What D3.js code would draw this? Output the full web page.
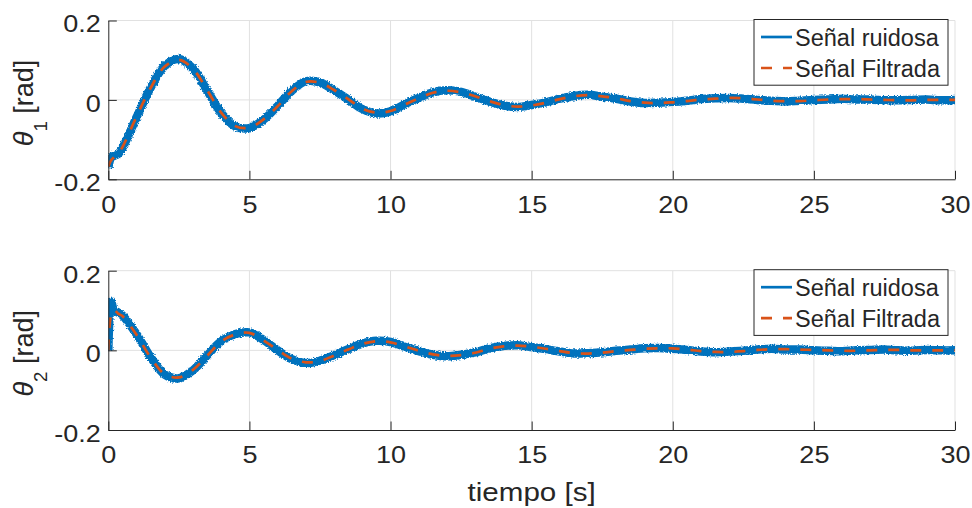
<!DOCTYPE html>
<html>
<head>
<meta charset="utf-8">
<script src="https://cdn.jsdelivr.net/npm/d3@7"></script>
<style>
  body { margin: 0; background: #fff; }
  svg { display: block; }
  text { font-family: "Liberation Sans", Arial, Helvetica, sans-serif; fill: #262626; }
</style>
</head>
<body>
<svg id="chart" width="972" height="508"></svg>
<script>
// Time samples [s]
const time = [0, 0.1, 0.2, 0.35, 0.5, 1, 1.5, 2, 2.5, 3, 3.5, 4, 4.5, 5, 5.5, 6, 6.5, 7, 7.5, 8, 8.5, 9, 9.5, 10,
  10.5, 11, 11.5, 12, 12.5, 13, 13.5, 14, 14.5, 15, 15.5, 16, 16.5, 17, 17.5, 18, 18.5, 19, 19.5, 20,
  20.5, 21, 21.5, 22, 22.5, 23, 23.5, 24, 24.5, 25, 25.5, 26, 26.5, 27, 27.5, 28, 28.5, 29, 29.5, 30];

// Joint 1 angle [rad]
const theta1Noisy = [-0.172, -0.145, -0.141, -0.136, -0.121,
  -0.044, 0.031, 0.086, 0.103, 0.079, 0.024, -0.033, -0.067, -0.071, -0.050,
  -0.015, 0.023, 0.047, 0.044, 0.024, 0.001, -0.023, -0.034, -0.029, -0.011,
  0.005, 0.019, 0.024, 0.020, 0.008, -0.004, -0.014, -0.018, -0.013, -0.006,
  0.003, 0.010, 0.013, 0.008, 0.003, -0.004, -0.008, -0.007, -0.005, -0.002,
  0.002, 0.004, 0.005, 0.003, 0.000, -0.002, -0.004, -0.002, 0.000, 0.001,
  0.003, 0.001, 0.001, -0.001, -0.001, 0.000, 0.001, -0.001, 0.000];
const theta1Filtered = [-0.168, -0.152, -0.145, -0.135, -0.119,
  -0.042, 0.030, 0.084, 0.101, 0.078, 0.025, -0.032, -0.066, -0.070, -0.049,
  -0.016, 0.022, 0.045, 0.043, 0.025, 0.002, -0.022, -0.032, -0.028, -0.012,
  0.004, 0.018, 0.023, 0.019, 0.009, -0.003, -0.013, -0.017, -0.014, -0.007,
  0.002, 0.009, 0.012, 0.009, 0.004, -0.003, -0.007, -0.008, -0.006, -0.003,
  0.001, 0.003, 0.005, 0.004, 0.001, -0.002, -0.003, -0.003, -0.001, 0.001,
  0.002, 0.002, 0.001, 0.000, -0.001, -0.001, 0.000, 0.000, 0.000];

// Joint 2 angle [rad]
const theta2Noisy = [0.000, 0.122, 0.101, 0.095, 0.088,
  0.041, -0.017, -0.061, -0.070, -0.050, -0.013, 0.023, 0.041, 0.045, 0.026,
  0.000, -0.022, -0.032, -0.026, -0.012, 0.003, 0.017, 0.024, 0.021, 0.009,
  -0.002, -0.011, -0.015, -0.011, -0.005, 0.005, 0.011, 0.013, 0.008, 0.003,
  -0.003, -0.008, -0.007, -0.005, -0.001, 0.002, 0.005, 0.006, 0.004, 0.001,
  -0.003, -0.005, -0.003, -0.001, 0.002, 0.004, 0.002, 0.002, 0.000, -0.001,
  -0.002, 0.000, 0.001, 0.002, 0.000, -0.001, 0.001, 0.000, 0.000];
const theta2Filtered = [0.000, 0.090, 0.102, 0.092, 0.086,
  0.039, -0.018, -0.060, -0.068, -0.049, -0.014, 0.022, 0.040, 0.044, 0.025,
  0.001, -0.021, -0.030, -0.027, -0.013, 0.002, 0.016, 0.023, 0.020, 0.010,
  -0.001, -0.010, -0.014, -0.012, -0.006, 0.004, 0.010, 0.012, 0.009, 0.004,
  -0.002, -0.007, -0.008, -0.006, -0.002, 0.001, 0.004, 0.005, 0.005, 0.002,
  -0.002, -0.004, -0.004, -0.002, 0.001, 0.003, 0.003, 0.002, 0.001, 0.000,
  -0.001, -0.001, 0.000, 0.001, 0.001, 0.000, 0.000, 0.000, 0.000];

const xTicks = [0, 5, 10, 15, 20, 25, 30];
const yTicks = [-0.2, 0, 0.2];
const seriesNames = ["Señal ruidosa", "Señal Filtrada"];
const xLabel = "tiempo [s]";
const yLabelSubs = ["1", "2"];

const BLUE = "#0072BD", ORANGE = "#D95319", AXIS = "#262626", GRID = "#e1e1e1";
const LEFT = 108.3, RIGHT = 955;
const panels = [
  { top: 20.5, bottom: 179.3, noisy: theta1Noisy, filtered: theta1Filtered, sub: yLabelSubs[0], labelShift: 3 },
  { top: 270.7, bottom: 430, noisy: theta2Noisy, filtered: theta2Filtered, sub: yLabelSubs[1], labelShift: 3 }
];

const svg = d3.select("#chart");

// slightly ragged edge for the wide noisy trace
const defs = svg.append("defs");
const rough = defs.append("filter").attr("id", "rough")
  .attr("filterUnits", "userSpaceOnUse")
  .attr("x", 0).attr("y", 0).attr("width", 972).attr("height", 508);
rough.append("feTurbulence").attr("type", "fractalNoise")
  .attr("baseFrequency", "0.7").attr("numOctaves", 1).attr("seed", 4).attr("result", "n");
rough.append("feDisplacementMap").attr("in", "SourceGraphic").attr("in2", "n")
  .attr("scale", 4).attr("xChannelSelector", "R").attr("yChannelSelector", "G");

const x = d3.scaleLinear().domain([0, 30]).range([LEFT, RIGHT]);
const fmtY = d => d === 0 ? "0" : d3.format(".1f")(d).replace("\u2212", "-");
const TICK_FONT = 23.5, STRETCH = 1.15;

panels.forEach((p, i) => {
  const y = d3.scaleLinear().domain([-0.2, 0.2]).range([p.bottom, p.top]);
  const g = svg.append("g");

  // grid
  g.append("g").selectAll("line").data(xTicks.filter(d => d > 0)).join("line")
    .attr("x1", d => x(d)).attr("x2", d => x(d))
    .attr("y1", p.top).attr("y2", p.bottom)
    .attr("stroke", GRID).attr("stroke-width", 1);
  g.append("g").selectAll("line").data(yTicks.filter(d => d > -0.2)).join("line")
    .attr("x1", LEFT).attr("x2", RIGHT)
    .attr("y1", d => y(d)).attr("y2", d => y(d))
    .attr("stroke", GRID).attr("stroke-width", 1);

  // clip region of the axes
  const clipId = "clip" + i;
  defs.append("clipPath").attr("id", clipId).append("rect")
    .attr("x", LEFT).attr("y", p.top).attr("width", RIGHT - LEFT).attr("height", p.bottom - p.top);

  const line = (vals) => d3.line()
    .x((d, k) => x(time[k]))
    .y(d => y(d))
    .curve(d3.curveCatmullRom.alpha(0.5))(vals);

  const plot = g.append("g").attr("clip-path", `url(#${clipId})`);
  plot.append("path").attr("d", line(p.noisy))
    .attr("fill", "none").attr("stroke", BLUE).attr("stroke-width", 8.5)
    .attr("stroke-linejoin", "round").attr("stroke-linecap", "butt")
    .attr("filter", "url(#rough)");
  plot.append("path").attr("d", line(p.filtered))
    .attr("fill", "none").attr("stroke", ORANGE).attr("stroke-width", 2.7)
    .attr("stroke-dasharray", "11,11");

  // axes
  const gx = g.append("g").attr("transform", `translate(0,${p.bottom})`)
    .call(d3.axisBottom(x).tickValues(xTicks).tickSizeInner(-8.5).tickSizeOuter(0).tickFormat(d3.format("d")));
  const gy = g.append("g").attr("transform", `translate(${LEFT},0)`)
    .call(d3.axisLeft(y).tickValues(yTicks).tickSizeInner(-8.5).tickSizeOuter(0).tickFormat(fmtY));
  [gx, gy].forEach(a => {
    a.select(".domain").attr("stroke", AXIS).attr("stroke-width", 1);
    a.selectAll(".tick line").attr("stroke", AXIS).attr("stroke-width", 1);
    a.selectAll(".tick text").style("font-size", TICK_FONT + "px").attr("dy", null);
  });
  gx.selectAll(".tick text").attr("y", 33.3).attr("transform", `scale(${STRETCH},1)`);
  gy.selectAll(".tick text").attr("x", -6.6).attr("y", 11.4).attr("transform", `scale(${STRETCH},1)`);

  // y label
  const cy = (p.top + p.bottom) / 2 + p.labelShift;
  const yl = svg.append("text")
    .attr("transform", `translate(33,${cy}) rotate(-90)`)
    .attr("text-anchor", "middle").style("font-size", "27px");
  yl.append("tspan").attr("font-style", "italic").text("\u03B8");
  yl.append("tspan").attr("dy", 14).style("font-size", "18.6px").text(p.sub);
  yl.append("tspan").attr("dy", -14).text(" [rad]");

  // legend
  const lw = 194, lh = 65.7;
  const lx = RIGHT - 201, ly = p.top - 1;
  const lg = svg.append("g").attr("transform", `translate(${lx},${ly})`);
  lg.append("rect").attr("width", lw).attr("height", lh)
    .attr("fill", "#fff").attr("stroke", AXIS).attr("stroke-width", 1);
  const rows = [
    { name: seriesNames[0], color: BLUE, dash: null, cy: 17.5 },
    { name: seriesNames[1], color: ORANGE, dash: "11,11", cy: 48.5 }
  ];
  rows.forEach(r => {
    lg.append("line").attr("x1", 7).attr("x2", 38).attr("y1", r.cy).attr("y2", r.cy)
      .attr("stroke", r.color).attr("stroke-width", 2.7)
      .attr("stroke-dasharray", r.dash);
    lg.append("text").attr("x", 41).attr("y", r.cy + 8.8)
      .style("font-size", "23.5px").text(r.name);
  });
});

// x label
svg.append("text")
  .attr("transform", `translate(${(LEFT + RIGHT) / 2},500.5) scale(1.12,1)`)
  .attr("text-anchor", "middle").style("font-size", "26.4px").text(xLabel);
</script>
</body>
</html>
